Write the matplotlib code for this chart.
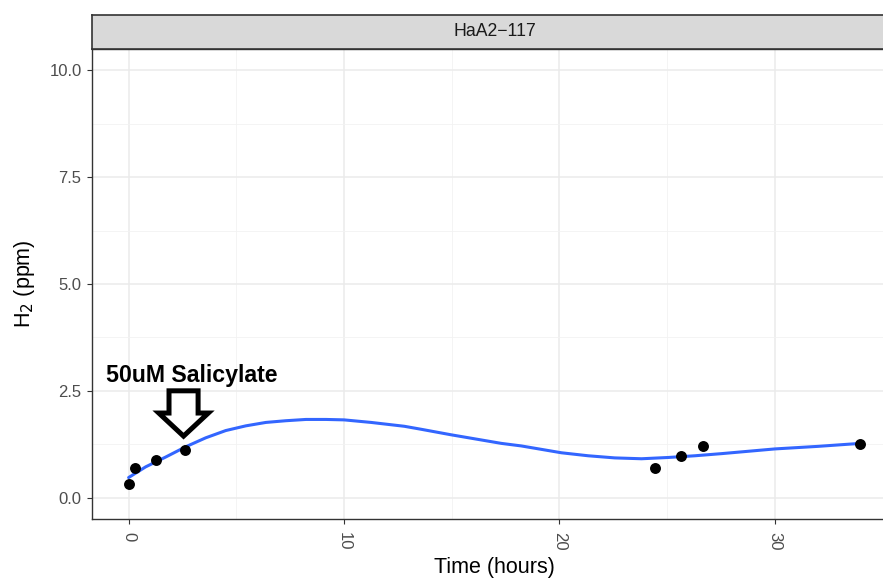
import numpy as np
import matplotlib
matplotlib.use("Agg")
import matplotlib.pyplot as plt
from matplotlib.patches import FancyArrow
from matplotlib.ticker import MultipleLocator

time_h = [0.0, 0.28, 1.26, 2.6, 24.43, 25.64, 26.67, 33.97]
h2_ppm = [0.31, 0.70, 0.88, 1.11, 0.70, 0.98, 1.20, 1.26]

# Smoothed (loess) curve
smooth_time = [0.0, 0.79, 1.72, 2.65, 3.58, 4.51, 5.44, 6.37, 7.3, 8.23, 9.16,
               10.0, 11.26, 12.8, 13.58, 14.98, 17.3, 18.23, 19.16, 20.09, 21.33,
               22.57, 23.81, 25.05, 26.29, 27.53, 30.0, 32.0, 33.97]
smooth_h2 = [0.47, 0.72, 0.95, 1.19, 1.40, 1.57, 1.68, 1.76, 1.80, 1.83, 1.83,
             1.82, 1.76, 1.67, 1.60, 1.47, 1.27, 1.21, 1.13, 1.05, 0.98,
             0.93, 0.91, 0.94, 0.98, 1.03, 1.14, 1.20, 1.27]

panel_label = "HaA2\u2212117"
annotation_label = "50uM Salicylate"
x_ticks = [0, 10, 20, 30]
y_ticks = [0.0, 2.5, 5.0, 7.5, 10.0]
y_ticklabels = ["0.0", "2.5", "5.0", "7.5", "10.0"]

plt.rcParams["font.family"] = ["Liberation Sans", "DejaVu Sans"]

fig = plt.figure(figsize=(8.83, 5.79), dpi=100)
L = 92 / 883
B = 1 - 519 / 579
H = (519 - 49) / 579
W = 805 / 883
ax = fig.add_axes([L, B, W, H])
strip = fig.add_axes([L, 1 - 49 / 579, W, 34 / 579])

ax.set_xlim(-1.7, 35.67)
ax.set_ylim(-0.5, 10.5)
ax.set_xticks(x_ticks)
ax.set_yticks(y_ticks)
ax.set_yticklabels(y_ticklabels)
ax.xaxis.set_minor_locator(MultipleLocator(5))
ax.yaxis.set_minor_locator(MultipleLocator(1.25))
ax.grid(which="major", color="#EBEBEB", lw=1.1)
ax.grid(which="minor", color="#F2F2F2", lw=0.6)
ax.set_axisbelow(True)
for s in ax.spines.values():
    s.set_color("#333333")
    s.set_linewidth(1.0)
ax.tick_params(which="major", length=3.5, color="#333333", labelcolor="#4D4D4D", labelsize=12)
ax.tick_params(axis="x", which="major", pad=6)
ax.tick_params(axis="y", which="major", pad=4)
ax.tick_params(which="minor", length=0)
for lab in ax.get_xticklabels():
    lab.set_rotation(270)
    lab.set_va("top")

ax.plot(smooth_time, smooth_h2, color="#3366FF", lw=2.2, zorder=3,
        solid_joinstyle="round", solid_capstyle="round")
ax.scatter(time_h, h2_ppm, s=62, color="black", zorder=4, linewidths=0)

ax.set_xlabel("Time (hours)", fontsize=15.5, color="black", labelpad=4.5)
ax.set_ylabel("H$_2$ (ppm)", fontsize=15.5, color="black", labelpad=9)

ax.text(-1.07, 2.71, annotation_label, fontsize=16.7, fontweight="bold",
        ha="left", va="baseline", color="black")
arr = FancyArrow(2.55, 2.5, 0, -1.06, width=1.35, head_width=2.3, head_length=0.54,
                 length_includes_head=True, fc="white", ec="black", lw=3.6, zorder=6)
ax.add_patch(arr)

strip.set_facecolor("#D9D9D9")
strip.set_xticks([])
strip.set_yticks([])
for s in strip.spines.values():
    s.set_color("#333333")
    s.set_linewidth(1.2)
strip.text(0.5, 0.5, panel_label, ha="center", va="center", fontsize=12.7, color="#1A1A1A",
           transform=strip.transAxes)

fig.savefig("out.png", dpi=100)
